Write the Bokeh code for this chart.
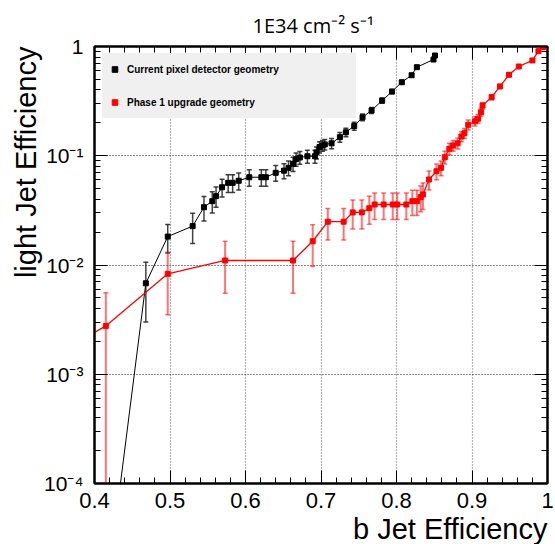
from bokeh.plotting import figure
from bokeh.models import (ColumnDataSource, FixedTicker, LinearAxis, LogAxis, Title,
                          Legend, LegendItem, Range1d)
from bokeh.embed import file_html
from bokeh.resources import INLINE

# ---------------- data ----------------
black_x = [0.416, 0.468, 0.497, 0.530, 0.545, 0.556, 0.561, 0.569, 0.577, 0.583,
           0.591, 0.605, 0.621, 0.627, 0.640, 0.651, 0.657, 0.663, 0.667, 0.672,
           0.682, 0.692, 0.694, 0.698, 0.702, 0.705, 0.714, 0.725, 0.733, 0.744,
           0.755, 0.767, 0.781, 0.794, 0.807, 0.820, 0.827, 0.849, 0.851]
black_y = [1.0e-5, 0.0068, 0.0182, 0.0227, 0.0338, 0.0384, 0.0427, 0.0515, 0.0565, 0.0565,
           0.0590, 0.0636, 0.0636, 0.0636, 0.0698, 0.0730, 0.0775, 0.0844, 0.0930, 0.0964,
           0.0990, 0.0990, 0.1070, 0.1200, 0.1240, 0.1270, 0.1300, 0.1480, 0.1640, 0.1870,
           0.2250, 0.2600, 0.3200, 0.3870, 0.4710, 0.5460, 0.6470, 0.7600, 0.8270]
black_err = [0.0, 0.0038, 0.0053, 0.0070, 0.0085, 0.0085, 0.0090, 0.0095, 0.0105, 0.0105,
             0.0105, 0.0110, 0.0110, 0.0110, 0.0115, 0.0115, 0.0120, 0.0125, 0.0130, 0.0130,
             0.0135, 0.0135, 0.0135, 0.0140, 0.0140, 0.0140, 0.0140, 0.0150, 0.0150, 0.0160,
             0.0160, 0.0165, 0.0170, 0.0170, 0.0170, 0.0165, 0.0160, 0.0140, 0.0130]

red_x = [0.385, 0.415, 0.497, 0.573, 0.663, 0.689, 0.709, 0.730, 0.742, 0.754,
         0.764, 0.771, 0.783, 0.795, 0.801, 0.813, 0.821, 0.827, 0.832, 0.835,
         0.843, 0.853, 0.859, 0.864, 0.870, 0.875, 0.881, 0.886, 0.890, 0.895,
         0.904, 0.908, 0.912, 0.914, 0.926, 0.937, 0.949, 0.962, 0.980, 0.988, 0.994]
red_y = [0.0021, 0.00277, 0.0083, 0.0110, 0.0110, 0.0165, 0.0249, 0.0249, 0.0303, 0.0303,
         0.0331, 0.0358, 0.0358, 0.0358, 0.0358, 0.0358, 0.0384, 0.0384, 0.0418, 0.0442,
         0.0606, 0.0722, 0.0776, 0.0970, 0.1160, 0.1240, 0.1300, 0.1500, 0.1610, 0.1920,
         0.2070, 0.2180, 0.2500, 0.2880, 0.3440, 0.4310, 0.5510, 0.6560, 0.7450, 0.9060, 0.9850]
red_err = [0.0, 0.0028, 0.0048, 0.0055, 0.0055, 0.0068, 0.0080, 0.0080, 0.0090, 0.0090,
           0.0095, 0.0097, 0.0097, 0.0097, 0.0097, 0.0097, 0.0100, 0.0100, 0.0110, 0.0120,
           0.0120, 0.0120, 0.0120, 0.0130, 0.0140, 0.0140, 0.0150, 0.0160, 0.0170, 0.0200,
           0.0200, 0.0200, 0.0200, 0.0200, 0.0200, 0.0190, 0.0180, 0.0160, 0.0140, 0.0100, 0.0050]

x_major = [0.4, 0.5, 0.6, 0.7, 0.8, 0.9, 1.0]
x_labels = ["0.4", "0.5", "0.6", "0.7", "0.8", "0.9", "1"]
y_major = [1e-4, 1e-3, 1e-2, 1e-1, 1.0]
y_labels = ["10\u207b\u2074", "10\u207b\u00b3", "10\u207b\u00b2", "10\u207b\u00b9", "1"]

title_text = "1E34 cm\u207b\u00b2 s\u207b\u00b9"
x_title = "b Jet Efficiency"
y_title = "light Jet Efficiency"
legend_black = "Current pixel detector geometry"
legend_red = "Phase 1 upgrade geometry"

# ---------------- helpers ----------------
def err_source(x, y, e):
    lo = [max(v - d, 1e-9) for v, d in zip(y, e)]
    hi = [v + d for v, d in zip(y, e)]
    return ColumnDataSource(dict(x=x, y=y, lo=lo, hi=hi))

x_minor = [round(0.4 + 0.02 * i, 2) for i in range(31)]
y_minor = [k * 10.0 ** ex for ex in range(-4, 0) for k in range(2, 10)]

p = figure(width=555, height=544, output_backend="svg", toolbar_location=None,
           x_range=Range1d(0.4, 1.0), y_range=Range1d(1e-4, 1.0), y_axis_type="log",
           min_border_left=94, min_border_right=8, min_border_top=46, min_border_bottom=61)
p.background_fill_color = "white"
p.border_fill_color = "white"
p.outline_line_color = "black"
p.outline_line_width = 2

xt = FixedTicker(ticks=x_major, minor_ticks=x_minor)
yt = FixedTicker(ticks=y_major, minor_ticks=y_minor)

def style_axis(ax, labels=True, standoff=10, size="21px"):
    ax.major_tick_in = 13
    ax.major_tick_out = 0
    ax.minor_tick_in = 6
    ax.minor_tick_out = 0
    ax.axis_line_color = "black"
    ax.axis_line_width = 2
    ax.major_tick_line_color = "black"
    ax.minor_tick_line_color = "black"
    ax.major_tick_line_width = 1
    ax.minor_tick_line_width = 1
    ax.major_label_text_font = "Liberation Sans"
    ax.major_label_text_color = "black"
    if labels:
        ax.major_label_text_font_size = size
        ax.major_label_standoff = standoff
    else:
        ax.major_label_text_font_size = "1px"
        ax.major_label_standoff = 0

xa = p.xaxis[0]
xa.ticker = xt
xa.major_label_overrides = {v: s for v, s in zip(x_major, x_labels)}
style_axis(xa, standoff=9, size="22px")
ya = p.yaxis[0]
ya.ticker = yt
ya.major_label_overrides = {v: s for v, s in zip(y_major, y_labels)}
style_axis(ya, standoff=11, size="21px")

top = LinearAxis(ticker=xt)
style_axis(top, labels=False)
top.major_label_overrides = {v: "" for v in x_major}
p.add_layout(top, "above")
right = LogAxis(ticker=yt)
style_axis(right, labels=False)
right.major_label_overrides = {v: "" for v in y_major}
p.add_layout(right, "right")

p.xgrid.ticker = FixedTicker(ticks=x_major)
p.ygrid.ticker = FixedTicker(ticks=y_major)
p.xgrid.grid_line_color = "#666666"
p.xgrid.grid_line_dash = "1 2"
p.xgrid.grid_line_width = 1.2
p.ygrid.grid_line_color = "#111111"
p.ygrid.grid_line_dash = "1 2"
p.ygrid.grid_line_width = 1

# ---------------- black series ----------------
bsrc = err_source(black_x, black_y, black_err)
p.segment(x0="x", y0="lo", x1="x", y1="hi", source=bsrc, line_color="#222222",
          line_alpha=0.85, line_width=1.5)
p.scatter(x="x", y="hi", source=bsrc, marker="dash", size=5, line_color="#222222",
          line_alpha=0.85, line_width=1.5)
p.scatter(x="x", y="lo", source=bsrc, marker="dash", size=5, line_color="#222222",
          line_alpha=0.85, line_width=1.5)
p.line(x="x", y="y", source=bsrc, line_color="black", line_width=1)
bpts = p.scatter(x="x", y="y", source=bsrc, marker="square", size=5,
                 fill_color="black", line_color="black")

# ---------------- red series ----------------
rsrc = err_source(red_x, red_y, red_err)
p.segment(x0="x", y0="lo", x1="x", y1="hi", source=rsrc, line_color="#ff0000",
          line_alpha=0.55, line_width=2)
p.scatter(x="x", y="hi", source=rsrc, marker="dash", size=5, line_color="#ff0000",
          line_alpha=0.55, line_width=1.5)
p.scatter(x="x", y="lo", source=rsrc, marker="dash", size=5, line_color="#ff0000",
          line_alpha=0.55, line_width=1.5)
p.line(x="x", y="y", source=rsrc, line_color="#ff0000", line_width=1.3)
rpts = p.scatter(x="x", y="y", source=rsrc, marker="square", size=5,
                 fill_color="#ff0000", line_color="#ff0000")

# ---------------- legend ----------------
legend = Legend(items=[LegendItem(label=legend_black, renderers=[bpts]),
                       LegendItem(label=legend_red, renderers=[rpts])],
                location=(8, 365), background_fill_color="#f0f0f0", background_fill_alpha=1.0,
                border_line_color=None, padding=0, spacing=1, margin=0,
                glyph_width=25, glyph_height=14, label_height=32, label_width=229,
                label_standoff=0, label_text_font="Liberation Sans",
                label_text_font_style="bold", label_text_font_size="10px",
                label_text_color="black")
p.add_layout(legend)

# ---------------- titles ----------------
p.add_layout(Title(text=title_text, align="left", offset=158, standoff=16,
                   text_font="Open Sans", text_font_size="20px",
                   text_font_style="normal", text_color="black"), "above")
p.add_layout(Title(text=x_title, align="right", offset=0, standoff=0,
                   text_font="Liberation Sans", text_font_size="29px",
                   text_font_style="normal", text_color="black"), "below")
p.add_layout(Title(text=y_title, align="right", offset=0, standoff=0,
                   text_font="Liberation Sans", text_font_size="29px",
                   text_font_style="normal", text_color="black"), "left")

open("out.html", "w").write(file_html(p, INLINE))
